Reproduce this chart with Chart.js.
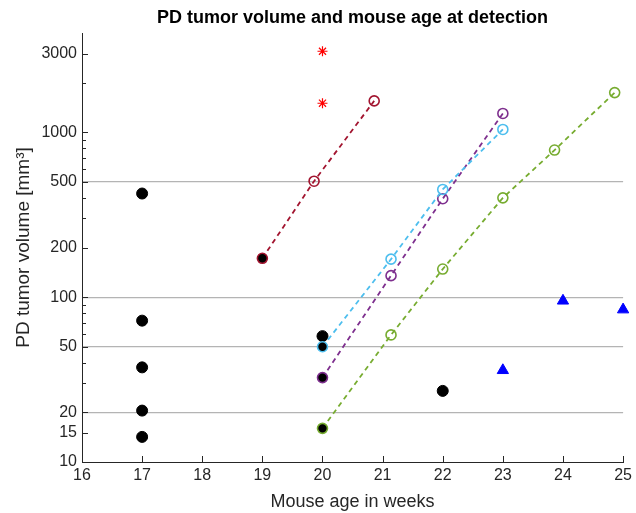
<!DOCTYPE html>
<html lang="en">
<head>
    <meta charset="UTF-8">
    <title>PD tumor volume</title>
    <script src="https://cdn.jsdelivr.net/npm/chart.js"></script>
    <style>
        body { margin: 0; background: #fff; }
        #wrap { width: 636px; height: 513px; }
    </style>
</head>
<body>
    <div id="wrap"><canvas id="tumorChart" width="636" height="513"></canvas></div>

    <script>
        // data (x = age in weeks, y = tumor volume in mm3)
        const blackX = [17, 17, 17, 17, 17, 20, 22];
        const blackY = [425, 72, 37.5, 20.5, 14.2, 58, 27];
        const starX = [20, 20];
        const starY = [3100, 1500];
        const crimsonX = [19, 19.86, 20.86];
        const crimsonY = [172, 505, 1550];
        const cyanX = [20, 21.14, 22, 23];
        const cyanY = [50, 170, 450, 1040];
        const purpleX = [20, 21.14, 22, 23];
        const purpleY = [32.5, 135, 395, 1300];
        const greenX = [20, 21.14, 22, 23, 23.86, 24.86];
        const greenY = [16, 59, 148, 400, 780, 1740];
        const triX = [23, 24, 25];
        const triY = [36, 95, 84];

        const yLabelTicks = [10, 15, 20, 50, 100, 200, 500, 1000, 3000];
        const yMinorTicks = [30, 40, 60, 70, 80, 90, 300, 400, 600, 700, 800, 900, 2000];
        const yGridLines = [20, 50, 100, 500];
        const xTicks = [16, 17, 18, 19, 20, 21, 22, 23, 24, 25];

        const titleText = 'PD tumor volume and mouse age at detection';
        const fontFam = '"Liberation Sans", Arial, sans-serif';

        function pts(xs, ys) {
            return xs.map((x, i) => ({ x: x, y: ys[i] }));
        }

        // first point of every growth curve is the black "detection" dot
        function firstBlack(n) {
            return Array.from({ length: n }, (_, i) => i === 0 ? '#000' : 'rgba(0,0,0,0)');
        }

        function curve(xs, ys, color) {
            return {
                data: pts(xs, ys),
                showLine: true,
                clip: false,
                borderColor: color,
                borderWidth: 1.8,
                borderDash: [5, 4],
                pointStyle: 'circle',
                pointRadius: 5,
                pointBorderWidth: 1.6,
                pointBorderColor: color,
                pointBackgroundColor: firstBlack(xs.length)
            };
        }

        // inward ticks + title centred over the plot area
        const matlabBits = {
            id: 'matlabBits',
            afterDraw(chart) {
                const ctx = chart.ctx;
                const a = chart.chartArea;
                const x = chart.scales.x, y = chart.scales.y;
                ctx.save();
                ctx.strokeStyle = '#262626';
                ctx.lineWidth = 1;
                ctx.beginPath();
                yLabelTicks.forEach(v => {
                    const p = Math.round(y.getPixelForValue(v)) + 0.5;
                    ctx.moveTo(a.left, p); ctx.lineTo(a.left + 6, p);
                });
                yMinorTicks.forEach(v => {
                    const p = Math.round(y.getPixelForValue(v)) + 0.5;
                    ctx.moveTo(a.left, p); ctx.lineTo(a.left + 4, p);
                });
                xTicks.forEach(v => {
                    const p = Math.round(x.getPixelForValue(v)) + 0.5;
                    ctx.moveTo(p, a.bottom); ctx.lineTo(p, a.bottom - 6);
                });
                ctx.stroke();

                ctx.fillStyle = '#000';
                ctx.font = 'bold 18px ' + fontFam;
                ctx.textAlign = 'center';
                ctx.textBaseline = 'middle';
                ctx.fillText(titleText, (a.left + a.right) / 2, 18);
                ctx.restore();
            }
        };

        const ctx = document.getElementById('tumorChart').getContext('2d');
        new Chart(ctx, {
            type: 'scatter',
            data: {
                datasets: [
                    curve(crimsonX, crimsonY, '#A2142F'),
                    curve(cyanX, cyanY, '#4DBEEE'),
                    curve(purpleX, purpleY, '#7E2F8E'),
                    curve(greenX, greenY, '#77AC30'),
                    {
                        data: pts(blackX, blackY),
                        clip: false,
                        pointStyle: 'circle',
                        pointRadius: 5.5,
                        pointBackgroundColor: '#000',
                        pointBorderColor: '#000'
                    },
                    {
                        data: pts(starX, starY),
                        clip: false,
                        pointStyle: 'star',
                        pointRadius: 5,
                        pointBorderWidth: 1.2,
                        pointBorderColor: '#FF0000',
                        pointBackgroundColor: '#FF0000'
                    },
                    {
                        data: pts(triX, triY),
                        clip: false,
                        pointStyle: 'triangle',
                        pointRadius: 6.5,
                        pointBorderColor: '#0000FF',
                        pointBackgroundColor: '#0000FF'
                    }
                ]
            },
            options: {
                responsive: false,
                animation: false,
                layout: { padding: { top: 33, right: 11, left: 0, bottom: 0 } },
                plugins: {
                    legend: { display: false },
                    tooltip: { enabled: false },
                    title: { display: false }
                },
                scales: {
                    x: {
                        type: 'linear',
                        min: 16,
                        max: 25,
                        afterFit(scale) { scale.height = 51; },
                        ticks: {
                            stepSize: 1,
                            padding: 4,
                            color: '#262626',
                            font: { family: fontFam, size: 16 }
                        },
                        grid: { display: false, drawTicks: false },
                        border: { display: true, color: '#262626', width: 1 },
                        title: {
                            display: true,
                            text: 'Mouse age in weeks',
                            color: '#262626',
                            padding: { top: 0, bottom: 0 },
                            font: { family: fontFam, size: 18 }
                        }
                    },
                    y: {
                        type: 'logarithmic',
                        min: 10,
                        max: 4000,
                        afterFit(scale) { scale.width = 82; },
                        afterBuildTicks(scale) {
                            scale.ticks = yLabelTicks.map(v => ({ value: v }));
                        },
                        ticks: {
                            autoSkip: false,
                            padding: 5,
                            color: '#262626',
                            font: { family: fontFam, size: 16 },
                            callback: v => String(v)
                        },
                        grid: {
                            drawTicks: false,
                            lineWidth: 1.2,
                            color: c => (c.tick && yGridLines.includes(c.tick.value)) ? '#b4b4b4' : 'rgba(0,0,0,0)'
                        },
                        border: { display: true, color: '#262626', width: 1 },
                        title: {
                            display: true,
                            text: 'PD tumor volume [mm³]',
                            color: '#262626',
                            padding: { top: 12, bottom: 0 },
                            font: { family: fontFam, size: 19 }
                        }
                    }
                }
            },
            plugins: [matlabBits]
        });
    </script>
</body>
</html>
